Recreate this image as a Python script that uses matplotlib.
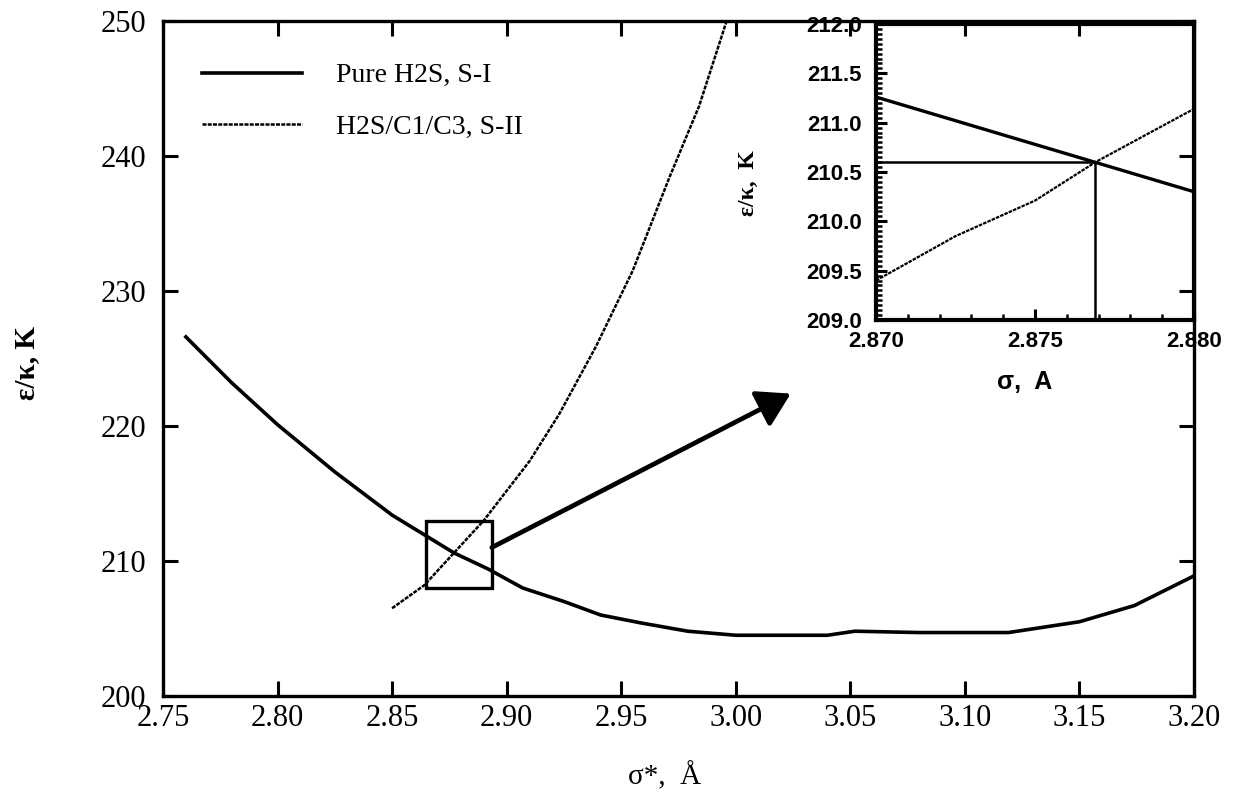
import matplotlib
matplotlib.use('Agg')
import matplotlib.pyplot as plt
from matplotlib.patches import Rectangle
from matplotlib.ticker import MultipleLocator, FormatStrFormatter

# pure H2S, structure I (solid)
sig_s1 = [2.760, 2.780, 2.800, 2.825, 2.850, 2.877, 2.892, 2.907, 2.925, 2.941,
          2.959, 2.979, 3.000, 3.040, 3.052, 3.080, 3.119, 3.150, 3.174, 3.200]
eps_s1 = [226.6, 223.2, 220.1, 216.6, 213.4, 210.6, 209.4, 208.0, 207.0, 206.0,
          205.4, 204.8, 204.5, 204.5, 204.8, 204.7, 204.7, 205.5, 206.7, 208.9]

# H2S/C1/C3, structure II (dotted)
sig_s2 = [2.850, 2.864, 2.877, 2.890, 2.900, 2.910, 2.923, 2.939, 2.955, 2.971, 2.984, 2.996]
eps_s2 = [206.5, 208.2, 210.6, 213.0, 215.2, 217.4, 220.9, 225.9, 231.5, 238.4, 243.7, 250.0]

# zoomed-in part
ins_sig_s1 = [2.870, 2.880]
ins_eps_s1 = [211.26, 210.30]
ins_sig_s2 = [2.870, 2.8725, 2.875, 2.8769, 2.880]
ins_eps_s2 = [209.40, 209.85, 210.21, 210.60, 211.14]
cross_sig = 2.8769
cross_eps = 210.6

box = (2.865, 208.0, 2.8935, 213.0)
arrow_from = (2.8935, 211.0)
arrow_to = (3.024, 222.4)

labels = ['Pure H2S, S-I', 'H2S/C1/C3, S-II']
xticks = [2.75, 2.80, 2.85, 2.90, 2.95, 3.00, 3.05, 3.10, 3.15, 3.20]
yticks = [200, 210, 220, 230, 240, 250]

serif = 'Liberation Serif'
sans = 'Liberation Sans'
dots = (0, (1.6, 0.5))

fig = plt.figure(figsize=(12.37, 7.95), dpi=100)
W, H = 1237.0, 795.0

ax = fig.add_axes([163 / W, 1 - 696 / H, (1194 - 163) / W, (696 - 21) / H])
ax.set_zorder(2)
ax.patch.set_visible(False)

ax.plot(sig_s1, eps_s1, color='k', lw=2.6, label=labels[0])
ax.plot(sig_s2, eps_s2, color='k', lw=1.8, ls=dots, label=labels[1])
ax.add_patch(Rectangle((box[0], box[1]), box[2] - box[0], box[3] - box[1],
                       fill=False, lw=2.4, color='k'))
ax.annotate('', xy=arrow_to, xytext=arrow_from,
            arrowprops=dict(arrowstyle='-|>,head_length=0.5,head_width=0.3',
                            lw=3.4, color='k', mutation_scale=40,
                            shrinkA=0, shrinkB=0))

ax.set_xlim(2.75, 3.20)
ax.set_ylim(200, 250)
ax.set_xticks(xticks)
ax.set_yticks(yticks)
ax.set_xticklabels(['%.2f' % v for v in xticks], fontfamily=serif, fontsize=22)
ax.set_yticklabels([str(v) for v in yticks], fontfamily=serif, fontsize=22)
ax.tick_params(direction='in', length=11, width=2.2, top=True, right=True)
ax.tick_params(axis='x', pad=6)
ax.tick_params(axis='y', pad=12)
for s in ax.spines.values():
    s.set_linewidth(2.4)

leg = ax.legend(loc='upper left', bbox_to_anchor=(0.038, 0.938), frameon=False,
                prop={'family': serif, 'size': 20}, handlelength=3.6,
                handletextpad=1.2, labelspacing=0.95, borderpad=0, borderaxespad=0)

fig.text(27 / W, 1 - 363 / H, 'ε/κ, K', rotation=90, ha='center', va='center',
         fontfamily=serif, fontweight='bold', fontsize=21)
fig.text(665 / W, 1 - 776 / H, 'σ*,  Å', ha='center', va='center',
         fontfamily=serif, fontsize=21)

# inset
ins = fig.add_axes([876 / W, 1 - 320 / H, (1194 - 876) / W, (320 - 24) / H])
ins.set_zorder(1)
ins.plot(ins_sig_s1, ins_eps_s1, color='k', lw=2.4)
ins.plot(ins_sig_s2, ins_eps_s2, color='k', lw=1.6, ls=dots)
ins.plot([2.870, cross_sig], [cross_eps, cross_eps], color='k', lw=1.8)
ins.plot([cross_sig, cross_sig], [209.0, cross_eps], color='k', lw=1.8)
ins.set_xlim(2.870, 2.880)
ins.set_ylim(209.0, 212.0)
ins.xaxis.set_major_locator(MultipleLocator(0.005))
ins.xaxis.set_minor_locator(MultipleLocator(0.001))
ins.yaxis.set_major_locator(MultipleLocator(0.5))
ins.yaxis.set_minor_locator(MultipleLocator(0.05))
ins.xaxis.set_major_formatter(FormatStrFormatter('%.3f'))
ins.yaxis.set_major_formatter(FormatStrFormatter('%.1f'))
ins.tick_params(which='major', direction='in', length=8, width=2.2)
ins.tick_params(which='minor', direction='in', length=4, width=1.8)
ins.tick_params(axis='x', pad=8)
ins.tick_params(axis='y', pad=10)
for lbl in ins.get_xticklabels() + ins.get_yticklabels():
    lbl.set_fontfamily(sans)
    lbl.set_fontweight('bold')
    lbl.set_fontsize(16)
for s in ins.spines.values():
    s.set_linewidth(3)

fig.canvas.draw()
top_lbl = ins.get_yticklabels()[-1]
top_lbl.set_clip_box(ax.bbox)
top_lbl.set_clip_on(True)

fig.text(748 / W, 1 - 183 / H, 'ε/κ,  K', rotation=90, ha='center', va='center',
         fontfamily=serif, fontweight='bold', fontsize=17)
fig.text(1025 / W, 1 - 382 / H, 'σ,  A', ha='center', va='center',
         fontfamily=sans, fontweight='bold', fontsize=18)

fig.savefig('out.png', dpi=100, facecolor='white')
